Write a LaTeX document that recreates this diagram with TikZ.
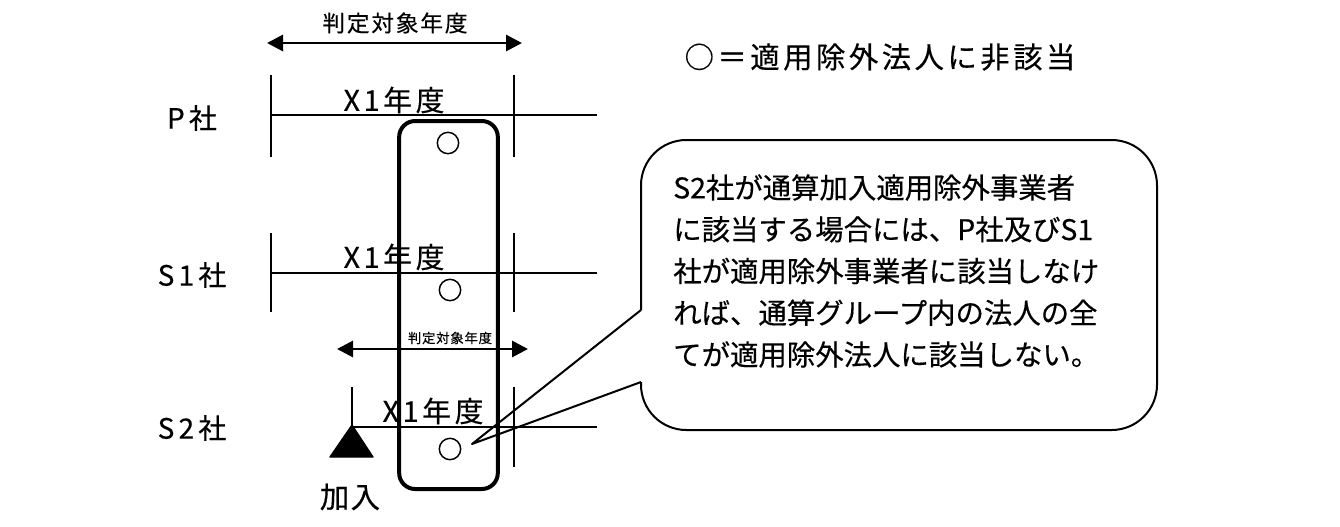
\documentclass[tikz,border=0pt]{standalone}
\usepackage{fontspec}
\setmainfont{Noto Sans CJK JP}[BoldFont=Noto Sans CJK JP, BoldFeatures={FakeBold=0.4}]
\usetikzlibrary{arrows.meta,positioning}

\begin{document}
\begin{tikzpicture}[
  x=0.75pt, y=-0.75pt,
  every node/.style={font=\bfseries},
  tline/.style={line width=2.2pt},
  span/.style={{Triangle[length=12pt,width=12pt]}-{Triangle[length=12pt,width=12pt]}, line width=2.2pt},
  okmark/.style={circle, draw, line width=1.1pt, minimum size=16pt, inner sep=0pt},
  grp/.style={rectangle, draw, rounded corners=12pt, line width=3pt},
  bubble/.style={line width=1.5pt, line join=round},
  firm/.style={inner sep=0pt, font=\bfseries\fontsize{21}{24}\selectfont\addfontfeature{LetterSpace=15}},
  year/.style={inner sep=0pt, font=\bfseries\fontsize{21.5}{24}\selectfont\addfontfeature{LetterSpace=13}},
  spanlbl/.style={inner sep=0pt, font=\bfseries\fontsize{17}{20}\selectfont\addfontfeature{LetterSpace=8}},
]
  \useasboundingbox (0,0) rectangle (1340,526);

  % judgement period
  \coordinate (spanL) at (267,43);
  \coordinate (spanR) at (522,43);
  \draw[span] (spanL) -- (spanR);
  \node[spanlbl] (spantxt) at (395,23) {判定対象年度};

  % P
  \coordinate (pA) at (271,115);
  \coordinate (pB) at (597,115);
  \draw[tline] (pA) -- (pB);
  \draw[tline] (271,75) -- (271,157);
  \draw[tline] (514,75) -- (514,157);
  \node[firm] (pco) at (192,118) {P社};
  \node[year] (pyear) at (394,100) {X1年度};

  % S1
  \coordinate (sA) at (271,273);
  \coordinate (sB) at (597,273);
  \draw[tline] (sA) -- (sB);
  \draw[tline] (271,233) -- (271,312);
  \draw[tline] (514,233) -- (514,312);
  \node[firm] (sone) at (192,275) {S1社};
  \node[year] (soneyear) at (394,257) {X1年度};

  % S2 judgement period
  \coordinate (subL) at (337,349);
  \coordinate (subR) at (528,349);
  \draw[span] (subL) -- (subR);
  \node[inner sep=0pt, font=\bfseries\fontsize{10}{12}\selectfont\addfontfeature{LetterSpace=6}] (subtxt) at (450,338) {判定対象年度};

  % S2
  \coordinate (join) at (352,425);
  \coordinate (tA) at (352,427);
  \coordinate (tB) at (597,427);
  \draw[tline] (tA) -- (tB);
  \draw[tline] (352,387) -- (join);
  \draw[tline] (514,387) -- (514,467);
  \filldraw[line width=1pt, line join=round] (join) -- (330,457) -- (373,457) -- cycle;
  \node[firm] (stwo) at (192,428) {S2社};
  \node[year] (stwoyear) at (433,411) {X1年度};
  \node[inner sep=0pt, font=\bfseries\fontsize{22}{24}\selectfont\addfontfeature{LetterSpace=5}] (joinlbl) at (350,497) {加入};

  % group box and marks
  \node[grp, minimum width=74pt, minimum height=276pt] (group) at (448.5,305) {};
  \node[okmark] (pok) at (448,143) {};
  \node[okmark] (sok) at (450,290) {};
  \node[okmark] (tok) at (450,449) {};

  % legend
  \node[inner sep=0pt, font=\bfseries\fontsize{22}{24}\selectfont\addfontfeature{LetterSpace=12}] (legend) at (880,57) {○＝適用除外法人に非該当};

  % callout
  \coordinate (gaptop) at (641,310);
  \coordinate (gapbot) at (641,382);
  \coordinate (tip) at (472,444);
  \draw[bubble, rounded corners=34] (gaptop) -- (641,140) -- (1157,140) -- (1157,430) -- (641,430) -- (gapbot);
  \draw[bubble] (gapbot) -- (tip) -- (gaptop);
  \node[anchor=west, inner sep=0pt, align=left, font=\bfseries\fontsize{21.3}{31.3}\selectfont] (note) at (673,271)
    {S2社が通算加入適用除外事業者\\
     に該当する場合には、P社及びS1\\
     社が適用除外事業者に該当しなけ\\
     れば、通算グループ内の法人の全\\
     てが適用除外法人に該当しない。};
\end{tikzpicture}
\end{document}
